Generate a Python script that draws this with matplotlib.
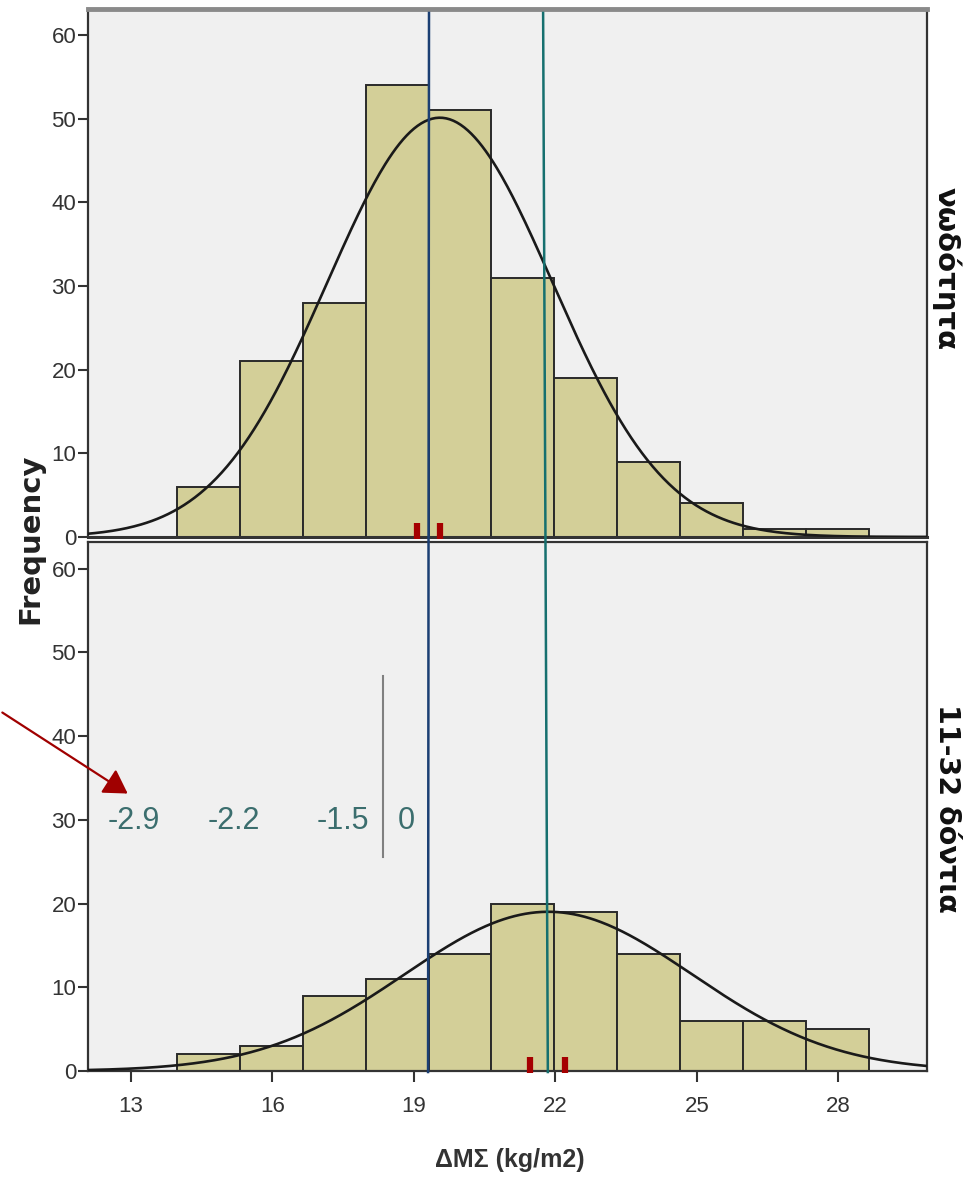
import numpy as np
import matplotlib.pyplot as plt
from matplotlib.lines import Line2D
from matplotlib import transforms

# histogram bins (kg/m2)
bin_start = 13.975
bin_width = 1.334
counts_top = [6, 21, 28, 54, 51, 31, 19, 9, 4, 1, 1]
counts_bottom = [2, 3, 9, 11, 14, 20, 19, 14, 6, 6, 5]
panel_labels = ['νωδότητα', '11-32 δόντια']

# normal curve (mean, sd) for each panel
fit_top = (19.55, 2.39)
fit_bottom = (21.85, 3.05)

# small red markers on the axis
marks_top = [19.07, 19.55]
marks_bottom = [21.46, 22.20]

# drawn overlay lines: (x at top of figure, x at bottom)
blue_line = (19.32, 19.30)
teal_line = (21.74, 21.84)

z_labels = ['-2.9', '-2.2', '-1.5', '0']
xticks = [13, 16, 19, 22, 25, 28]
yticks = [0, 10, 20, 30, 40, 50, 60]

bar_color = '#d3cf98'
tick_font = 'Liberation Sans'

fig = plt.figure(figsize=(9.69, 11.77), dpi=100)
ax1 = fig.add_axes([0.0908, 0.5438, 0.8658, 0.4486])
ax2 = fig.add_axes([0.0908, 0.0901, 0.8658, 0.4494])


def draw_panel(ax, counts, fit, marks, ytop):
    edges = bin_start + bin_width * np.arange(len(counts) + 1)
    ax.bar(edges[:-1], counts, width=bin_width, align='edge', color=bar_color,
           edgecolor='#2a2a2a', linewidth=1.4, zorder=2)
    xs = np.linspace(11.5, 30.5, 500)
    mu, sd = fit
    n = sum(counts)
    ys = n * bin_width / (sd * np.sqrt(2 * np.pi)) * np.exp(-0.5 * ((xs - mu) / sd) ** 2)
    ax.plot(xs, ys, color='#1a1a1a', lw=1.9, zorder=3)
    ax.vlines(marks, -0.3, 1.7, color='#a50000', lw=4.5, zorder=6, clip_on=False)
    ax.set_xlim(12.088, 29.88)
    ax.set_ylim(0, ytop)
    ax.set_facecolor('#f0f0f0')
    ax.set_yticks(yticks)
    ax.set_yticklabels([str(t) for t in yticks], family=tick_font, fontsize=16, color='#333333')
    ax.tick_params(axis='y', direction='out', length=7, width=1.5, pad=1.5, color='#333333')
    for s in ['left', 'bottom', 'right', 'top']:
        ax.spines[s].set_color('#333333')
        ax.spines[s].set_linewidth(1.6)


draw_panel(ax1, counts_top, fit_top, marks_top, 63.1)
draw_panel(ax2, counts_bottom, fit_bottom, marks_bottom, 63.2)

ax1.set_xticks([])
ax1.spines['top'].set_color('#8a8a8a')
ax1.spines['top'].set_linewidth(3.5)
ax1.spines['bottom'].set_linewidth(2.2)
ax2.set_xticks(xticks)
ax2.set_xticklabels([str(t) for t in xticks], family=tick_font, fontsize=16, color='#333333')
ax2.tick_params(axis='x', direction='out', length=8, width=1.5, pad=10, color='#333333')

# overlay lines crossing both panels
tr = transforms.blended_transform_factory(ax1.transData, fig.transFigure)
fig.add_artist(Line2D(list(blue_line), [0.989, 0.0892], transform=tr, color='#1b3f73', lw=1.8, zorder=10))
fig.add_artist(Line2D(list(teal_line), [0.989, 0.0892], transform=tr, color='#16706f', lw=1.8, zorder=10))

# axis titles and panel labels
fig.text(0.031, 0.542, 'Frequency', rotation=90, ha='center', va='center',
         fontsize=21, fontweight='bold', color='#222222')
fig.text(0.526, 0.0144, 'ΔΜΣ (kg/m2)', ha='center', va='center', family=tick_font,
         fontsize=18, fontweight='bold', color='#333333')
fig.text(0.977, 0.7715, panel_labels[0], rotation=270, ha='center', va='center',
         fontsize=21, fontweight='bold', color='#111111')
fig.text(0.977, 0.3135, panel_labels[1], rotation=270, ha='center', va='center',
         fontsize=20.5, fontweight='bold', color='#111111')

# z-score annotation in the lower panel
z_x = [0.1383, 0.2410, 0.3540, 0.4190]
for lab, x in zip(z_labels, z_x):
    fig.text(x, 0.3025, lab, ha='center', va='center', fontsize=22,
             family='Liberation Sans', color='#3b6e6e')
fig.add_artist(Line2D([0.3953, 0.3953], [0.4257, 0.2719], transform=fig.transFigure,
                      color='#808080', lw=1.5))
ax2.annotate('', xy=(0.1342, 0.3245), xytext=(0.0, 0.3959), xycoords='figure fraction',
             textcoords='figure fraction',
             arrowprops=dict(arrowstyle='-|>,head_length=0.55,head_width=0.33',
                             color='#a00000', lw=1.6, mutation_scale=26))

fig.savefig('out.png', dpi=100)
